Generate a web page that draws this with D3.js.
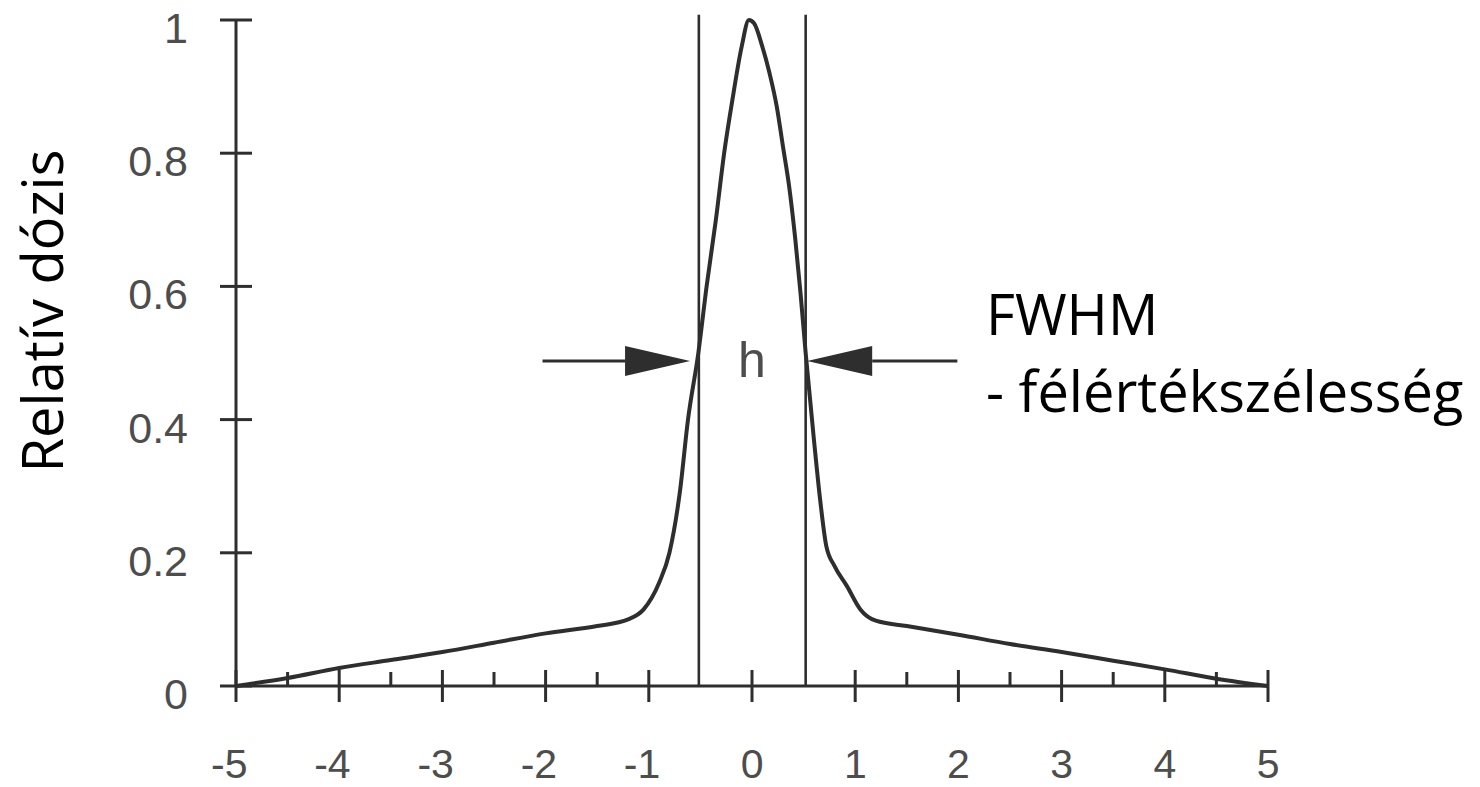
<!DOCTYPE html>
<html>
<head>
<meta charset="utf-8">
<script src="https://cdn.jsdelivr.net/npm/d3@7"></script>
<style>
  html, body { margin: 0; padding: 0; background: #fff; }
  svg { display: block; }
</style>
</head>
<body>
<svg id="chart" width="1480" height="787"></svg>
<script>
(function () {
  "use strict";

  // dose profile
  const profileX = [-5, -4.5, -4, -3.5, -3, -2.5, -2, -1.5, -1.2, -1.05, -0.9, -0.8, -0.7, -0.62,
    -0.52, -0.44, -0.35, -0.27, -0.19, -0.1, -0.03, 0.02, 0.1, 0.17, 0.24, 0.3, 0.36, 0.42, 0.47,
    0.52, 0.6, 0.66, 0.72, 0.8, 0.92, 1.05, 1.2, 1.5, 2, 2.5, 3, 3.5, 4, 4.5, 5];
  const profileY = [0, 0.012, 0.027, 0.039, 0.051, 0.065, 0.079, 0.09, 0.1, 0.115, 0.155, 0.2, 0.29, 0.4,
    0.5, 0.6, 0.7, 0.8, 0.88, 0.96, 1.0, 0.995, 0.96, 0.92, 0.87, 0.81, 0.75, 0.67, 0.59,
    0.5, 0.37, 0.28, 0.21, 0.18, 0.15, 0.115, 0.098, 0.09, 0.077, 0.063, 0.051, 0.038, 0.025, 0.011, 0];

  const xMajorTicks = [-5, -4, -3, -2, -1, 0, 1, 2, 3, 4, 5];
  const xMinorTicks = [-4.5, -3.5, -2.5, -1.5, 1.5, 2.5, 3.5, 4.5];
  const yTicks = [0, 0.2, 0.4, 0.6, 0.8, 1];
  const yTickLabels = ["0", "0.2", "0.4", "0.6", "0.8", "1"];

  // FWHM marker lines and arrows (data units)
  const fwhmEdges = [-0.515, 0.52];
  const fwhmTop = 1.008;
  const arrowLevel = 0.488;
  const arrowLeft = [-2.03, -0.6];
  const arrowRight = [1.99, 0.535];

  const yTitle = "Relatív dózis";
  const noteLines = ["FWHM", "- félértékszélesség"];
  const midLabel = "h";

  const ink = "#2e2e2e";
  const labelInk = "#4d4d4d";
  const numFont = "'Liberation Sans', Arial, sans-serif";
  const textFont = "'Open Sans', 'Noto Sans', sans-serif";

  const svg = d3.select("#chart");
  const x = d3.scaleLinear().domain([-5, 5]).range([236, 1268]);
  const y = d3.scaleLinear().domain([0, 1]).range([686, 20]);

  const g = svg.append("g");

  // axes
  g.append("line").attr("x1", x(-5)).attr("x2", x(5)).attr("y1", y(0)).attr("y2", y(0))
    .attr("stroke", ink).attr("stroke-width", 3);
  g.append("line").attr("x1", x(-5)).attr("x2", x(-5)).attr("y1", y(0)).attr("y2", y(1))
    .attr("stroke", ink).attr("stroke-width", 3);

  g.append("g").selectAll("line").data(xMajorTicks).join("line")
    .attr("x1", (d) => x(d)).attr("x2", (d) => x(d))
    .attr("y1", y(0) - 16).attr("y2", y(0) + 16)
    .attr("stroke", ink).attr("stroke-width", 3);

  g.append("g").selectAll("line").data(xMinorTicks).join("line")
    .attr("x1", (d) => x(d)).attr("x2", (d) => x(d))
    .attr("y1", y(0) - 14).attr("y2", y(0))
    .attr("stroke", ink).attr("stroke-width", 3);

  g.append("g").selectAll("line").data(yTicks).join("line")
    .attr("x1", x(-5) - 16).attr("x2", x(-5) + 16)
    .attr("y1", (d) => y(d)).attr("y2", (d) => y(d))
    .attr("stroke", ink).attr("stroke-width", 3);

  // tick labels: digit centred on the tick, minus sign hangs left
  g.append("g").selectAll("text").data(xMajorTicks).join("text")
    .attr("x", (d) => x(d) + 11.5)
    .attr("y", 778)
    .attr("text-anchor", "end")
    .attr("font-family", numFont).attr("font-size", 41).attr("fill", labelInk)
    .text((d) => String(d));

  g.append("g").selectAll("text").data(yTicks).join("text")
    .attr("x", 188)
    .attr("y", (d) => y(d) + 23)
    .attr("text-anchor", "end")
    .attr("font-family", numFont).attr("font-size", 43).attr("fill", labelInk)
    .text((d, i) => yTickLabels[i]);

  // FWHM vertical lines
  g.append("g").selectAll("line").data(fwhmEdges).join("line")
    .attr("x1", (d) => x(d)).attr("x2", (d) => x(d))
    .attr("y1", y(fwhmTop)).attr("y2", y(0))
    .attr("stroke", ink).attr("stroke-width", 2.6);

  // profile curve
  const pts = profileX.map((v, i) => [v, profileY[i]]);
  const line = d3.line().x((d) => x(d[0])).y((d) => y(d[1])).curve(d3.curveMonotoneX);
  g.append("path").attr("d", line(pts))
    .attr("fill", "none").attr("stroke", ink).attr("stroke-width", 4)
    .attr("stroke-linejoin", "round");

  // arrows
  function arrow(from, to) {
    const x0 = x(from), x1 = x(to), yy = y(arrowLevel);
    const dir = Math.sign(x1 - x0);
    const headLen = 65, half = 15;
    g.append("line").attr("x1", x0).attr("x2", x1 - dir * headLen).attr("y1", yy).attr("y2", yy)
      .attr("stroke", ink).attr("stroke-width", 3);
    g.append("path")
      .attr("d", `M${x1},${yy}L${x1 - dir * headLen},${yy - half}L${x1 - dir * headLen},${yy + half}Z`)
      .attr("fill", ink);
  }
  arrow(arrowLeft[0], arrowLeft[1]);
  arrow(arrowRight[0], arrowRight[1]);

  g.append("text").attr("x", x(0)).attr("y", 377)
    .attr("text-anchor", "middle")
    .attr("font-family", numFont).attr("font-size", 50).attr("fill", labelInk)
    .text(midLabel);

  // y title
  g.append("text")
    .attr("transform", "translate(63,311) rotate(-90)")
    .attr("text-anchor", "middle")
    .attr("font-family", textFont).attr("font-size", 56).attr("fill", "#000")
    .text(yTitle);

  // annotation
  g.append("g").selectAll("text").data(noteLines).join("text")
    .attr("x", 986)
    .attr("y", (d, i) => 335 + i * 77)
    .attr("font-family", textFont).attr("font-size", 56).attr("fill", "#000")
    .text((d) => d);
})();
</script>
</body>
</html>
